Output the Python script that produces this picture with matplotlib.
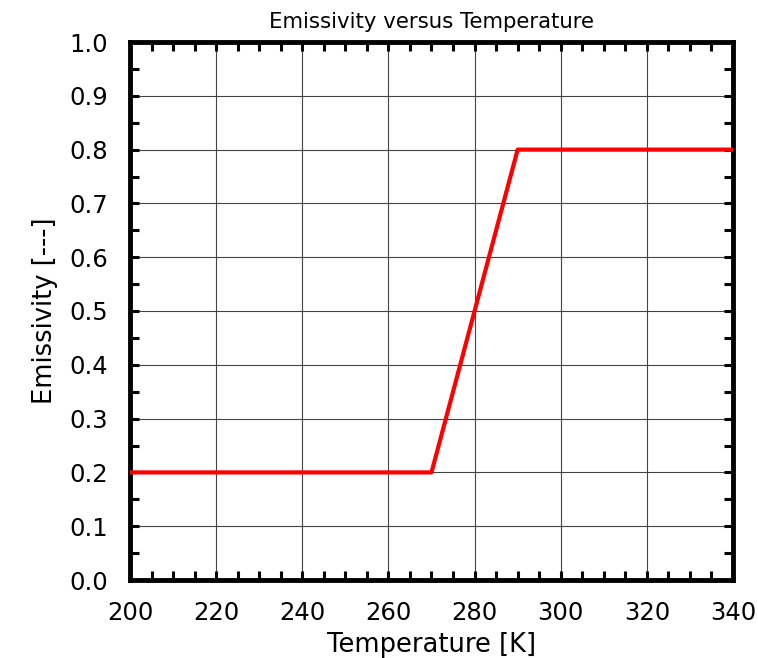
import matplotlib
matplotlib.use("Agg")
import matplotlib.pyplot as plt
from matplotlib.ticker import MultipleLocator

temperature = [200, 270, 290, 340]
emissivity = [0.2, 0.2, 0.8, 0.8]

W, H = 758, 658
fig = plt.figure(figsize=(W / 100, H / 100), dpi=100)
left, right, top, bottom = 130, 733, 42, 580
ax = fig.add_axes([left / W, 1 - bottom / H, (right - left) / W, (bottom - top) / H])
ax.plot(temperature, emissivity, color="red", lw=3, zorder=3)
ax.set_xlim(200, 340)
ax.set_ylim(0, 1)
ax.xaxis.set_major_locator(MultipleLocator(20))
ax.xaxis.set_minor_locator(MultipleLocator(5))
ax.yaxis.set_major_locator(MultipleLocator(0.1))
ax.yaxis.set_minor_locator(MultipleLocator(0.05))
ax.grid(True, which="major", color="#444444", lw=0.8)
ax.tick_params(which="both", direction="in", top=True, right=True,
               length=6.5, width=2.2, labelsize=17.5)
ax.tick_params(axis="x", pad=15)
ax.tick_params(axis="y", pad=16)
for s in ax.spines.values():
    s.set_linewidth(3.5)
ax.set_xlabel("Temperature [K]", fontsize=18.5, labelpad=5)
ax.set_ylabel("Emissivity [---]", fontsize=18.5, labelpad=8)
ax.set_title("Emissivity versus Temperature", fontsize=15.3, pad=10)
fig.savefig("out.png", dpi=100)
